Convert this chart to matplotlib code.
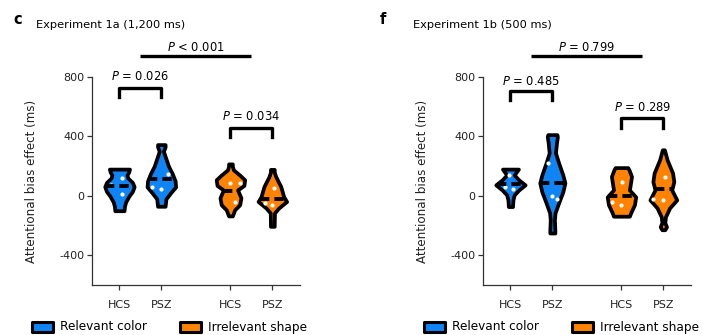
import numpy as np
import matplotlib
matplotlib.use("Agg")
import matplotlib.pyplot as plt
from matplotlib.patches import Rectangle

plt.rcParams['font.family'] = ['DejaVu Sans']
plt.rcParams['axes.unicode_minus'] = False

blue = '#0F84F5'
orange = '#FF8200'

groups = ['HCS', 'PSZ', 'HCS', 'PSZ']
positions = [0, 1, 2.65, 3.65]
yticks = [800, 400, 0, -400]

# violin outlines: y levels (ms) and half widths, bottom to top
# experiment 1a
v1a_y = [[-100, -70, -40, 0, 30, 62, 90, 120, 140, 160, 180],
         [-70, -20, 20, 60, 100, 150, 200, 250, 300, 330, 345],
         [-135, -94, -60, -13, 40, 70, 108, 140, 175, 200, 215],
         [-205, -115, -82, -38, -5, 63, 130, 160, 178]]
v1a_w = [[0.11, 0.12, 0.15, 0.23, 0.31, 0.35, 0.31, 0.2, 0.18, 0.22, 0.24],
         [0.09, 0.11, 0.22, 0.34, 0.33, 0.26, 0.17, 0.11, 0.05, 0.09, 0.09],
         [0.045, 0.1, 0.22, 0.25, 0.17, 0.32, 0.34, 0.22, 0.07, 0.045, 0.045],
         [0.045, 0.05, 0.15, 0.34, 0.27, 0.2, 0.08, 0.045, 0.045]]
med_1a = [69, 113, 36, -20]
dots_1a = [[120, 12, 70], [46, 150, 60], [86, -40, 86], [50, -60, -50]]
dx_1a = [[0.06, 0.06, -0.2], [0.0, 0.15, -0.22], [-0.02, 0.1, 0.22], [0.05, 0.0, -0.17]]

# experiment 1b
v1b_y = [[-72, -27, 7, 40, 74, 110, 141, 180],
         [-250, -230, -161, -114, -47, 27, 87, 141, 222, 289, 360, 397, 412],
         [-137, -114, -60, -7, 40, 94, 130, 175, 190],
         [-228, -208, -180, -141, -81, -27, 40, 96, 154, 242, 310]]
v1b_w = [[0.05, 0.06, 0.09, 0.2, 0.35, 0.19, 0.09, 0.19],
         [0.06, 0.06, 0.05, 0.065, 0.15, 0.25, 0.3, 0.25, 0.15, 0.075, 0.1, 0.12, 0.11],
         [0.19, 0.22, 0.31, 0.34, 0.19, 0.22, 0.24, 0.18, 0.15],
         [0.035, 0.075, 0.035, 0.05, 0.15, 0.32, 0.2, 0.25, 0.22, 0.09, 0.025]]
med_1b = [80, 89, 0, 47]
dots_1b = [[47, 60, 140], [0, 222, -20], [94, -60, -40], [127, -27, -20]]
dx_1b = [[0.05, -0.14, -0.04], [0.0, -0.1, 0.12], [0.02, 0.0, -0.22], [0.05, 0.0, -0.24]]

colors = [blue, blue, orange, orange]


def draw_panel(ax, vy, vw, meds, dots, dxs, top_p, pair_p):
    for i in range(4):
        x = positions[i]
        y = np.array(vy[i])
        w = np.array(vw[i])
        ax.fill_betweenx(y, x - w, x + w, facecolor=colors[i], edgecolor='black',
                         linewidth=2.7, joinstyle='round', zorder=2)
        ax.scatter(x + np.array(dxs[i]), dots[i], s=9, color='white', zorder=3,
                   linewidths=0)
        hw = np.interp(meds[i], y, w)
        ax.plot([x - hw, x + hw], [meds[i], meds[i]], color='black', lw=2.8,
                ls=(0, (2.4, 1.3)), solid_capstyle='butt', zorder=4)

    ax.set_xlim(-0.655, 4.31)
    ax.set_ylim(-600, 800)
    ax.set_xticks(positions)
    ax.set_xticklabels(groups)
    ax.set_yticks(yticks)
    ax.spines['top'].set_visible(False)
    ax.spines['right'].set_visible(False)
    for s in ['left', 'bottom']:
        ax.spines[s].set_linewidth(0.9)
        ax.spines[s].set_color('#333333')
    ax.tick_params(length=3.5, width=0.9, color='#333333', labelsize=8,
                   labelcolor='#222222', pad=2)
    ax.tick_params(axis='x', pad=7)
    ax.set_ylabel('Attentional bias effect (ms)', fontsize=8.6, color='#222222')
    ax.yaxis.set_label_coords(-0.26, 0.5)

    # comparison between the two conditions
    c1 = (positions[0] + positions[1]) / 2
    c2 = (positions[2] + positions[3]) / 2
    ax.plot([c1, c2], [938, 938], color='black', lw=2.4, clip_on=False,
            solid_capstyle='butt')
    ax.text((c1 + c2) / 2, 1001, top_p, ha='center', va='center', fontsize=8.3)

    # group brackets within each condition
    for (a, b), (yb, yt, ytxt), label in zip([(0, 1), (2, 3)], pair_p[0], pair_p[1]):
        xa, xb = positions[a], positions[b]
        ax.plot([xa, xa, xb, xb], [yb, yt, yt, yb], color='black', lw=2.4,
                clip_on=False, solid_joinstyle='round')
        ax.text((xa + xb) / 2, ytxt, label, ha='center', va='center', fontsize=8.3)


fig = plt.figure(figsize=(7.03, 3.35), dpi=100)
axL = fig.add_axes([92 / 703, 1 - 285 / 335, 208 / 703, 208 / 335])
axR = fig.add_axes([483 / 703, 1 - 285 / 335, 208 / 703, 208 / 335])

draw_panel(axL, v1a_y, v1a_w, med_1a, dots_1a, dx_1a, '$P$ < 0.001',
           ([(665, 726, 806), (396, 457, 531)], ['$P$ = 0.026', '$P$ = 0.034']))
draw_panel(axR, v1b_y, v1b_w, med_1b, dots_1b, dx_1b, '$P$ = 0.799',
           ([(645, 706, 773), (457, 524, 598)], ['$P$ = 0.485', '$P$ = 0.289']))

# panel letters and titles
fig.text(13 / 703, 1 - 20 / 335, 'c', fontsize=10.5, fontweight='bold', va='center')
fig.text(36 / 703, 1 - 25 / 335, 'Experiment 1a (1,200 ms)', fontsize=8.2, va='center')
fig.text(380 / 703, 1 - 20 / 335, 'f', fontsize=10.5, fontweight='bold', va='center')
fig.text(413 / 703, 1 - 25 / 335, 'Experiment 1b (500 ms)', fontsize=8.2, va='center')

# legends under each panel
for x0 in [32, 424]:
    for dx, col, lab in [(0, blue, 'Relevant color'), (148, orange, 'Irrelevant shape')]:
        fig.patches.append(Rectangle(((x0 + dx) / 703, 1 - 332 / 335), 21 / 703, 10 / 335,
                                     transform=fig.transFigure, facecolor=col,
                                     edgecolor='black', lw=2.2, joinstyle='round'))
        fig.text((x0 + dx + 28) / 703, 1 - 327 / 335, lab, fontsize=8.7, va='center')

plt.savefig('out.png', dpi=100)
